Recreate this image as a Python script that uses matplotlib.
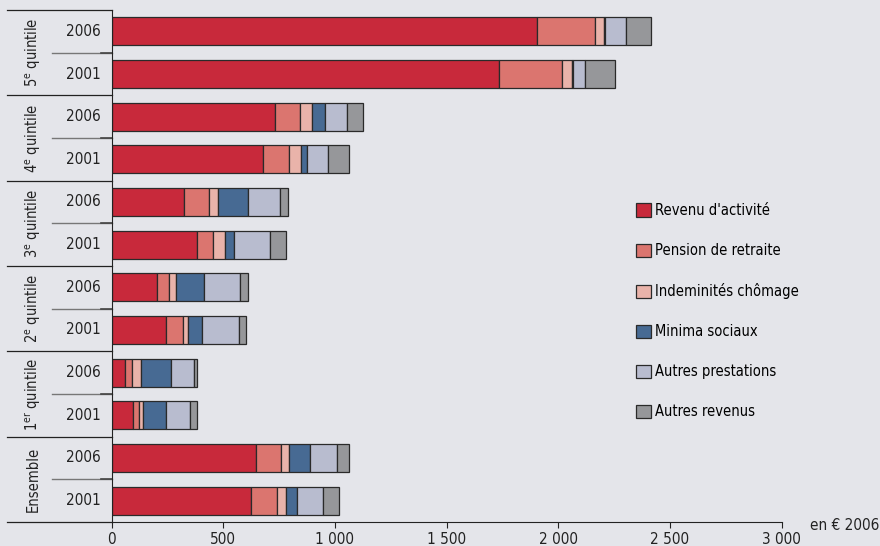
import matplotlib
matplotlib.use("Agg")
import matplotlib.pyplot as plt
from matplotlib.patches import Patch
import numpy as np

plt.rcParams['font.family'] = ['DejaVu Sans']
plt.rcParams['font.stretch'] = 'condensed'
plt.rcParams['mathtext.fontset'] = 'custom'
plt.rcParams['mathtext.rm'] = 'DejaVu Sans:stretch=condensed'

# data (en euros 2006), rows from top to bottom
groups = [r"5$^{\mathrm{e}}$ quintile", r"4$^{\mathrm{e}}$ quintile", r"3$^{\mathrm{e}}$ quintile",
          r"2$^{\mathrm{e}}$ quintile", r"1$^{\mathrm{er}}$ quintile", "Ensemble"]
years = ["2006", "2001"]
components = ["Revenu d'activité", "Pension de retraite", "Indeminités chômage",
              "Minima sociaux", "Autres prestations", "Autres revenus"]

revenu_activite = [1907, 1734, 734, 680, 326, 383, 202, 243, 62, 95, 648, 625]
pension_retraite = [256, 281, 108, 117, 112, 70, 57, 79, 31, 30, 110, 116]
indemnites_chomage = [41, 48, 55, 53, 38, 55, 30, 22, 40, 17, 38, 39]
minima_sociaux = [7, 2, 57, 25, 134, 39, 125, 63, 132, 101, 94, 49]
autres_prestations = [94, 55, 101, 93, 146, 164, 163, 163, 103, 109, 118, 117]
autres_revenus = [110, 134, 72, 96, 33, 70, 33, 32, 16, 32, 56, 71]

colors = ["#C8293B", "#DB756F", "#E9B3AA", "#476A93", "#B8BCCF", "#96979A"]
bg = "#E4E5EA"

series = [revenu_activite, pension_retraite, indemnites_chomage,
          minima_sociaux, autres_prestations, autres_revenus]

fig = plt.figure(figsize=(8.8, 5.46), dpi=100, facecolor=bg)
ax = fig.add_axes([111.5 / 880, 24 / 546, 670 / 880, 512 / 546])
ax.set_facecolor(bg)

y = np.arange(len(revenu_activite))
left = np.zeros(len(y))
for vals, col, name in zip(series, colors, components):
    ax.barh(y, vals, left=left, height=0.66, color=col, edgecolor="#2a2a2a",
            linewidth=0.9, label=name)
    left += np.array(vals)

ax.set_xlim(0, 3000)
ax.set_ylim(11.5, -0.5)

for s in ["top", "right"]:
    ax.spines[s].set_visible(False)
ax.spines["left"].set_color("#222222")
ax.spines["bottom"].set_color("#222222")

ax.set_xticks(np.arange(0, 3001, 500))
ax.set_xticklabels([f"{v:,}".replace(",", " ") for v in range(0, 3001, 500)])
ax.tick_params(axis="x", length=4, color="#222222", labelsize=11, pad=3, labelcolor="#222222")
ax.set_yticks([])

# left-hand labels and separators
tr = ax.get_yaxis_transform()
for g, gname in enumerate(groups):
    top = 2 * g - 0.5
    ax.plot([-0.156, 0], [top, top], transform=tr, color="#222222", lw=0.9, clip_on=False)
    ax.plot([-0.0888, 0], [top + 1, top + 1], transform=tr, color="#777777", lw=1.0, clip_on=False)
    ax.plot([-0.015, 0], [top + 1, top + 1], transform=tr, color="#444444", lw=1.2, clip_on=False)
    ax.text(-0.117, top + 1, gname, transform=tr, rotation=90, ha="center", va="center",
            fontsize=10.5, color="#222222")
    for k, yr in enumerate(years):
        ax.text(-0.0425, top + 0.5 + k, yr, transform=tr, ha="center", va="center",
                fontsize=11, color="#222222")
ax.plot([-0.156, 0], [11.5, 11.5], transform=tr, color="#222222", lw=0.9, clip_on=False)

fig.text(1.0 - 1 / 880, 1 - 526 / 546, "en € 2006", ha="right", va="center",
         fontsize=11, color="#222222")

handles = [Patch(facecolor=c, edgecolor="#2a2a2a", linewidth=0.9) for c in colors]
ax.legend(handles, components, loc="upper left", bbox_to_anchor=(636 / 880, 1 - 203 / 546),
          bbox_transform=fig.transFigure, frameon=False, fontsize=10.5,
          handlelength=1.0, handleheight=1.0, handletextpad=0.3, labelspacing=1.72,
          borderaxespad=0, borderpad=0)

plt.savefig("out.png", dpi=100, facecolor=bg)
